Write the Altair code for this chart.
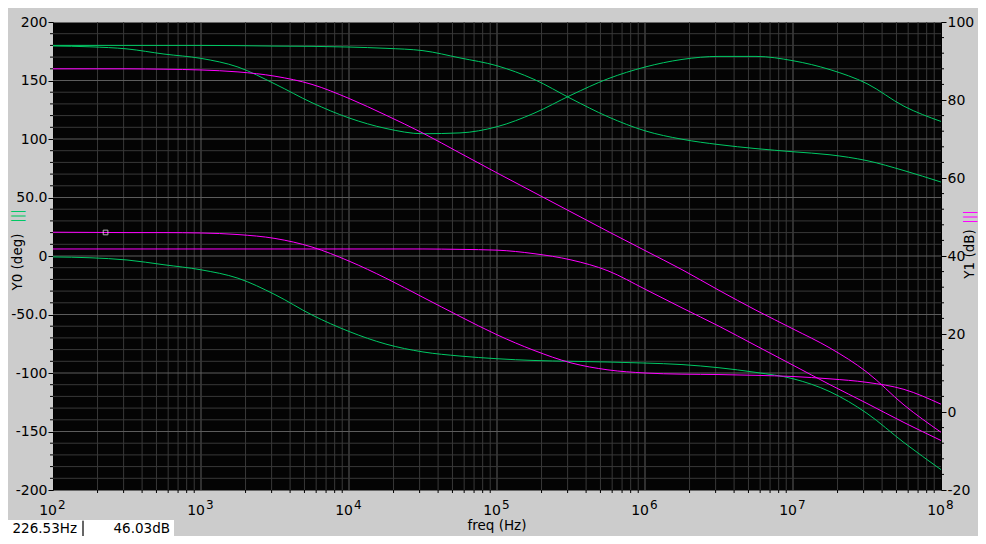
import altair as alt
import pandas as pd

# ---------------- data ----------------
FREQ = [100, 177.8, 316.2, 562.3, 1000, 1778, 3162, 5623,
        1e4, 1.778e4, 3.162e4, 5.623e4, 1e5, 1.778e5, 3.162e5, 5.623e5,
        1e6, 1.778e6, 3.162e6, 5.623e6, 1e7, 1.778e7, 3.162e7, 5.623e7, 1e8]

# phase curves (deg, left axis)
G1 = [180, 180, 180, 180, 180, 179.8, 179.4, 179.2, 178.6, 177.5, 175.5, 169.3, 162.6,
      151, 134.5, 119, 107, 99.8, 95.2, 91.8, 89.1, 86.5, 81.5, 73, 63.2]
G2 = [179.5, 178.8, 177, 172.6, 168.9, 161.5, 147, 131, 118, 109, 104.5, 105.2, 110.5,
      122, 137.5, 151.5, 161.5, 168, 170.6, 170.6, 166.9, 159.3, 147.3, 128, 115]
G3 = [-0.8, -1.5, -3.4, -7.5, -11.8, -19, -33, -50.4, -64.5, -75.3, -82, -85.5, -87.8,
      -89.3, -90, -90.6, -91.5, -92.8, -95.5, -99.5, -104.9, -116, -134.5, -159.5, -182.6]

# magnitude curves (dB, right axis)
M1 = [88, 88, 88, 87.9, 87.7, 87.2, 86.1, 84, 80.4, 76.1, 71.5, 66.4, 61.3,
      56.3, 51.3, 46.3, 41.4, 36.5, 31.2, 26.1, 21.3, 16.4, 10.2, 1.8, -5.2]
M2 = [46.1, 46.05, 46, 46, 45.9, 45.5, 44.5, 42.3, 38.7, 34.3, 29.4, 24.5, 19.8,
      15.8, 12.6, 10.8, 10, 9.7, 9.6, 9.4, 9.1, 8.5, 7.6, 5.8, 2]
M3 = [41.8, 41.8, 41.8, 41.8, 41.8, 41.8, 41.8, 41.8, 41.8, 41.8, 41.8, 41.7, 41.5,
      40.6, 39, 36.2, 31.5, 26.7, 22.0, 17.0, 12.0, 7.0, 2.2, -2.7, -7.3]

CURSOR_FREQ = [226.53]
CURSOR_DB = [46.03]
READOUT = ["226.53Hz", "46.03dB"]

DECADES = [1e2, 1e3, 1e4, 1e5, 1e6, 1e7, 1e8]
EXPONENTS = ["2", "3", "4", "5", "6", "7", "8"]
MINOR_FREQ = [k * 10 ** d for d in range(2, 8) for k in range(2, 10)]
DEG_TICKS = [-200, -150, -100, -50, 0, 50, 100, 150, 200]
DEG_MAJOR_GRID = [-150, -100, -50, 0, 50, 100, 150]
DEG_MINOR = [v for v in range(-190, 200, 10) if v % 50]
DB_TICKS = [-20, 0, 20, 40, 60, 80, 100]
DB_MINOR = [v for v in range(-16, 100, 4) if v % 20]

GREEN = "#00c864"
MAGENTA = "#ff00ff"
GRID_MINOR = "#393939"
GRID_MAJOR = "#5c5c5c"
FONT = "DejaVu Sans"

W, H = 888, 468

phase_df = pd.DataFrame({
    "freq": FREQ * 3,
    "deg": G1 + G2 + G3,
    "curve": ["G1"] * len(FREQ) + ["G2"] * len(FREQ) + ["G3"] * len(FREQ),
})
mag_df = pd.DataFrame({
    "freq": FREQ * 3,
    "db": M1 + M2 + M3,
    "curve": ["M1"] * len(FREQ) + ["M2"] * len(FREQ) + ["M3"] * len(FREQ),
})

xs = alt.Scale(type="log", domain=[100, 1e8], nice=False)
ys_deg = alt.Scale(domain=[-200, 200], nice=False, zero=False)
ys_db = alt.Scale(domain=[-20, 100], nice=False, zero=False)

# ---------------- grid ----------------
vgrid_minor = alt.Chart(pd.DataFrame({"f": MINOR_FREQ})).mark_rule(
    color=GRID_MINOR, strokeWidth=1).encode(x=alt.X("f:Q", scale=xs, axis=None))
vgrid_major = alt.Chart(pd.DataFrame({"f": DECADES[1:-1]})).mark_rule(
    color=GRID_MAJOR, strokeWidth=1).encode(x=alt.X("f:Q", scale=xs, axis=None))
hgrid_minor = alt.Chart(pd.DataFrame({"v": DEG_MINOR})).mark_rule(
    color=GRID_MINOR, strokeWidth=1).encode(y=alt.Y("v:Q", scale=ys_deg, axis=None))
hgrid_major = alt.Chart(pd.DataFrame({"v": DEG_MAJOR_GRID})).mark_rule(
    color=GRID_MAJOR, strokeWidth=1).encode(y=alt.Y("v:Q", scale=ys_deg, axis=None))

# minor ticks
left_minor_ticks = alt.Chart(pd.DataFrame({"v": DEG_MINOR})).mark_rule(
    color="black", strokeWidth=1).encode(
    y=alt.Y("v:Q", scale=ys_deg, axis=None), x=alt.value(-3), x2=alt.value(0))
bottom_minor_ticks = alt.Chart(pd.DataFrame({"f": MINOR_FREQ})).mark_rule(
    color="black", strokeWidth=1).encode(
    x=alt.X("f:Q", scale=xs, axis=None), y=alt.value(H), y2=alt.value(H + 3))
right_minor_ticks = alt.Chart(pd.DataFrame({"v": DB_MINOR})).mark_rule(
    color="black", strokeWidth=1).encode(
    y=alt.Y("v:Q", scale=ys_db, axis=None), x=alt.value(W), x2=alt.value(W + 3))

# ---------------- phase lines (left axis) ----------------
left_label_expr = ("datum.value == 0 ? '0' : (datum.value < 0 ? '-' : '') + "
                   "(abs(datum.value) == 50 ? '50.0' : '' + abs(datum.value))")
phase_lines = alt.Chart(phase_df).mark_line(strokeWidth=1, interpolate="monotone").encode(
    x=alt.X("freq:Q", scale=xs, axis=alt.Axis(values=DECADES, labels=False, tickSize=5,
                                              grid=False, title=None)),
    y=alt.Y("deg:Q", scale=ys_deg,
            axis=alt.Axis(orient="left", values=DEG_TICKS, tickSize=5, labelPadding=1,
                          grid=False, title=None, labelExpr=left_label_expr,
                          labelOverlap=False)),
    detail="curve:N",
    color=alt.value(GREEN),
)

# ---------------- magnitude lines (right axis) ----------------
right_label_expr = "(datum.value < 0 ? '-' : '') + abs(datum.value)"
mag_lines = alt.Chart(mag_df).mark_line(strokeWidth=1, interpolate="monotone").encode(
    x=alt.X("freq:Q", scale=xs, axis=None),
    y=alt.Y("db:Q", scale=ys_db,
            axis=alt.Axis(orient="right", values=DB_TICKS, tickSize=5, labelPadding=1,
                          grid=False, title=None, labelExpr=right_label_expr,
                          labelOverlap=False)),
    detail="curve:N",
    color=alt.value(MAGENTA),
)
cursor = alt.Chart(pd.DataFrame({"f": CURSOR_FREQ, "db": CURSOR_DB})).mark_square(
    size=22, filled=False, color="white", strokeWidth=1).encode(
    x=alt.X("f:Q", scale=xs, axis=None), y=alt.Y("db:Q", scale=ys_db, axis=None))

# x tick labels: 10 with superscript exponent
dec_df = pd.DataFrame({"f": DECADES, "exp": EXPONENTS, "base": ["10"] * len(DECADES)})
xlab_base = alt.Chart(dec_df).mark_text(
    align="right", baseline="alphabetic", dx=4, font=FONT, fontSize=14, color="black").encode(
    x=alt.X("f:Q", scale=xs, axis=None), y=alt.value(H + 25), text="base:N")
xlab_exp = alt.Chart(dec_df).mark_text(
    align="left", baseline="alphabetic", dx=5, font=FONT, fontSize=12, color="black").encode(
    x=alt.X("f:Q", scale=xs, axis=None), y=alt.value(H + 19), text="exp:N")

# titles
def label(text, x, y, color="black", angle=0):
    return alt.Chart(pd.DataFrame({"t": [text]})).mark_text(
        font=FONT, fontSize=13.5, color=color, angle=angle,
        align="center", baseline="middle").encode(
        text="t:N", x=alt.value(x), y=alt.value(y))

xtitle = label("freq (Hz)", W / 2, H + 36)
y0_title = label("Y0 (deg)", -35, 240, angle=270)
y0_mark = label("|||", -35, 194, color=GREEN, angle=270)
y1_title = label("Y1 (dB)", W + 29, 232, angle=270)
y1_mark = label("|||", W + 29, 195, color=MAGENTA, angle=270)

# readout boxes
box1 = alt.Chart(pd.DataFrame({"t": [READOUT[0]]})).mark_rect(color="white").encode(
    x=alt.value(-45), x2=alt.value(29), y=alt.value(H + 30), y2=alt.value(H + 46))
box2 = alt.Chart(pd.DataFrame({"t": [READOUT[1]]})).mark_rect(color="white").encode(
    x=alt.value(31), x2=alt.value(121), y=alt.value(H + 30), y2=alt.value(H + 46))
box_sep = alt.Chart(pd.DataFrame({"t": [0]})).mark_rule(color="black", strokeWidth=1).encode(
    x=alt.value(30), y=alt.value(H + 31), y2=alt.value(H + 46))
txt1 = alt.Chart(pd.DataFrame({"t": [READOUT[0]]})).mark_text(
    font=FONT, fontSize=13.5, color="black", align="right", baseline="middle").encode(
    text="t:N", x=alt.value(24), y=alt.value(H + 39))
txt2 = alt.Chart(pd.DataFrame({"t": [READOUT[1]]})).mark_text(
    font=FONT, fontSize=13.5, color="black", align="right", baseline="middle").encode(
    text="t:N", x=alt.value(117), y=alt.value(H + 39))

chart = alt.layer(
    vgrid_minor, vgrid_major, hgrid_minor, hgrid_major,
    left_minor_ticks, bottom_minor_ticks, right_minor_ticks,
    phase_lines, mag_lines, cursor,
    xlab_base, xlab_exp, xtitle, y0_title, y0_mark, y1_title, y1_mark,
    box1, box2, box_sep, txt1, txt2,
).resolve_scale(y="independent").properties(
    width=W, height=H,
    autosize=alt.AutoSizeParams(type="none"),
    padding={"left": 45, "top": 14, "right": 37, "bottom": 46},
    background="#cccccc",
).configure_view(
    fill="#040404", stroke="transparent"
).configure_axis(
    domainColor="black", tickColor="black", labelColor="black",
    labelFont=FONT, labelFontSize=14, domainWidth=1, tickWidth=1,
)

chart.save("out.html", embed_options={"renderer": "svg", "actions": False})
